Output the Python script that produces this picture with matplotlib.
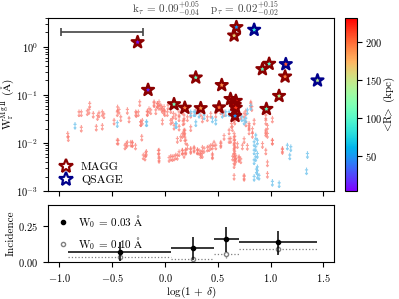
import numpy as np
import matplotlib
matplotlib.use('Agg')
from matplotlib import pyplot as plt
from matplotlib.path import Path
from matplotlib.lines import Line2D
from matplotlib.colors import Normalize

plt.rcParams['font.family'] = 'serif'
plt.rcParams['font.serif'] = ['cmr10']
plt.rcParams['mathtext.fontset'] = 'cm'
plt.rcParams['axes.formatter.use_mathtext'] = True
plt.rcParams['axes.unicode_minus'] = True

# upper limits, MAGG (log(1+delta), W in Angstrom)
magg_lim_x = [-0.714, -0.815, -0.793, -0.736, -0.72, -0.68, -0.626, -0.594, -0.452, -0.436,
              -0.357, -0.42, -0.483, -0.341, -0.272, -0.253, -0.24, -0.23, -0.594, -0.651,
              -0.793, -0.922, -0.916, -0.452, -0.367, -0.31, -0.221, -0.206, -0.19, -0.057,
              -0.063, 0.054, 0.085, 0.117, 0.164, 0.196, 0.187, 0.187, -0.168, -0.152,
              -0.104, -0.073, -0.057, -0.031, -0.009, 0.022, -0.278, -0.23, 0.054, 0.069,
              0.133, 0.171, -0.357, -0.31, -0.445, -0.177, -0.64, -0.58, -0.45, -0.215,
              -0.325, -0.38, -0.28,
              -0.104, -0.057, -0.073, -0.041, -0.009, -0.136, -0.167, -0.088, -0.025, -0.003,
              0.028, 0.054, 0.079, 0.101, 0.133, 0.164, 0.180, 0.212, 0.243, 0.291,
              0.338, 0.354, 0.401, 0.433, 0.480, 0.528, 0.559, -0.025, 0.180, 0.133,
              0.085, 0.243, 0.180, 0.148, 0.117, 0.196, 0.212, 0.243, 0.275, 0.306,
              0.338, 0.370, 0.417, 0.449, 0.480, 0.528, 0.164, 0.133, 0.101, 0.069,
              0.038, -0.057, -0.057, -0.183, 0.180, 0.354, 0.449, 0.622, 0.607, 0.629,
              0.654, 0.638, 0.654, 0.654, 0.654, 0.654, 0.654, 0.670, 0.654, 0.654,
              0.66, 0.66, 0.66, 0.66, 0.66, 0.66,
              0.812, 0.822, 0.765, 0.749, 0.717, 0.844, 0.796, 0.796, 0.954, 0.954,
              0.970, 0.954, 0.970, 1.017, 1.017, 0.954, 0.970, 0.970, 0.733, 0.701,
              0.749, 1.112, 0.923, 0.828,
              0.164, 0.18, 0.196, 0.243, 0.275, 0.307, 0.322, 0.354, 0.338, 0.401,
              0.433, 0.464, 0.528, 0.449, 0.559, 0.607, 0.686, 0.749, 0.78, 0.717,
              0.749, 1.017, 1.112, 0.954, 0.812, 0.765, 0.796, 0.828, 0.64, 0.67, 0.70]
magg_lim_w = [0.063, 0.042, 0.042, 0.044, 0.047, 0.039, 0.040, 0.042, 0.042, 0.047,
              0.047, 0.033, 0.028, 0.031, 0.040, 0.042, 0.068, 0.026, 0.022, 0.021,
              0.020, 0.0149, 0.0127, 0.0108, 0.0092, 0.0095, 0.013, 0.0053, 0.005, 0.0048,
              0.0066, 0.005, 0.005, 0.0052, 0.0066, 0.0069, 0.0174, 0.0125, 0.043, 0.049,
              0.065, 0.062, 0.057, 0.053, 0.045, 0.042, 0.042, 0.026, 0.028, 0.030,
              0.033, 0.027, 0.0098, 0.0098, 0.0107, 0.0063, 0.035, 0.038, 0.053, 0.028,
              0.0098, 0.0085, 0.0085,
              0.068, 0.068, 0.063, 0.058, 0.054, 0.046, 0.042, 0.046, 0.049, 0.042,
              0.058, 0.049, 0.039, 0.036, 0.042, 0.046, 0.036, 0.033, 0.039, 0.046,
              0.042, 0.031, 0.033, 0.039, 0.039, 0.046, 0.042, 0.028, 0.028, 0.021,
              0.022, 0.0205, 0.0175, 0.0127, 0.0117, 0.0108, 0.0085, 0.0073, 0.0073, 0.0067,
              0.0062, 0.0073, 0.0079, 0.0085, 0.0085, 0.0092, 0.0067, 0.0062, 0.0053, 0.0049,
              0.0047, 0.0067, 0.0045, 0.0059, 0.0057, 0.0057, 0.0053, 0.0117, 0.0175, 0.024,
              0.031, 0.0205, 0.0149, 0.0108, 0.0085, 0.0067, 0.0057, 0.0045, 0.0035, 0.002,
              0.028, 0.013, 0.0095, 0.0075, 0.005, 0.004,
              0.063, 0.054, 0.044, 0.039, 0.036, 0.028, 0.024, 0.0175, 0.036, 0.028,
              0.022, 0.0175, 0.0149, 0.031, 0.0108, 0.0067, 0.0038, 0.0022, 0.0085, 0.0049,
              0.0019, 0.0073, 0.0092, 0.0149,
              0.0147, 0.0159, 0.0066, 0.0069, 0.0077, 0.0069, 0.0066, 0.0077, 0.0056, 0.0077,
              0.0084, 0.0098, 0.0098, 0.0056, 0.0135, 0.0116, 0.0091, 0.0116, 0.0084, 0.0044,
              0.002, 0.0107, 0.0069, 0.0159, 0.067, 0.0257, 0.022, 0.0187, 0.005, 0.0052, 0.0047]

# upper limits, QSAGE
qsage_lim_x = [-0.853, -0.452, -0.177, 0.107, -0.174, 0.275, 0.322, 0.370, 0.449, 0.480,
               0.543, 0.575, 0.607, 0.101, 0.243, 0.284, 0.291, 0.780, 0.765, 0.727,
               0.749, 0.812, 0.859, 0.844, 0.875, 0.859, 0.844, 0.875, 0.859, 0.844,
               0.875, 0.844, 0.875, 0.866, 0.890, 1.159, 1.191, 1.181, 1.349, 1.340,
               1.017, 1.081]
qsage_lim_w = [0.023, 0.025, 0.026, 0.0237, 0.026, 0.042, 0.039, 0.036, 0.031, 0.028,
               0.039, 0.042, 0.042, 0.024, 0.042, 0.042, 0.026, 0.046, 0.031, 0.033,
               0.028, 0.057, 0.0138, 0.010, 0.0108, 0.0079, 0.0067, 0.0057, 0.0049, 0.0042,
               0.003, 0.0019, 0.0021, 0.0027, 0.002, 0.0085, 0.0079, 0.0053, 0.0057, 0.0026,
               0.0015, 0.0014]

# detections
magg_x = [-0.26, -0.161, 0.085, 0.187, 0.291, 0.338, 0.512, 0.537, 0.62, 0.67,
          0.66, 0.67, 0.663, 0.676, 0.654, 0.922, 0.986, 0.96, 1.08, 1.137]
magg_w = [1.25, 0.127, 0.064, 0.054, 0.23, 0.053, 0.055, 0.16, 0.082, 0.075,
          0.062, 0.054, 0.0365, 2.57, 1.72, 0.343, 0.443, 0.051, 0.095, 0.241]
magg_r = [10, 15, 110, 195, 110, 185, 200, 190, 225, 220,
          230, 215, 50, 50, 165, 105, 100, 105, 140, 195]

qsage_x = [0.844, 1.144, 1.444]
qsage_w = [2.26, 0.436, 0.2]
qsage_r = [85, 205, 145]

# representative error on log(1+delta)
err_x, err_w, err_dx = -0.6, 2.0, 0.39

# incidence panel
bin_lo = [-0.92, 0.06, 0.464, 0.70]
bin_hi = [0.06, 0.464, 0.70, 1.444]
inc_003 = [0.072, 0.095, 0.158, 0.139]
inc_003_lo = [0.065, 0.081, 0.086, 0.09]
inc_003_hi = [0.069, 0.081, 0.087, 0.078]
inc_010 = [0.033, 0.021, 0.055, 0.092]
inc_010_err = [0.02, 0.012, 0.025, 0.03]

r_min, r_max = 4, 232


def limit_marker():
    verts = [(0, 1), (0, -1), (-0.45, 0.35), (0.45, 0.35), (-0.35, -0.5), (0, -1), (0.35, -0.5)]
    codes = [Path.MOVETO, Path.LINETO, Path.MOVETO, Path.LINETO,
             Path.MOVETO, Path.LINETO, Path.LINETO]
    return Path(verts, codes)


def main():
    fig = plt.figure(figsize=(3.99, 2.99), dpi=100)
    ax1 = fig.add_axes([0.120, 0.361, 0.717, 0.579])
    ax2 = fig.add_axes([0.120, 0.124, 0.717, 0.190])
    cax = fig.add_axes([0.865, 0.361, 0.030, 0.579])

    mk = limit_marker()
    ax1.scatter(magg_lim_x, magg_lim_w, marker=mk, s=26, facecolors='none',
                edgecolors='#fa7a70', linewidths=0.8, alpha=0.7, zorder=2)
    ax1.scatter(qsage_lim_x, qsage_lim_w, marker=mk, s=26, facecolors='none',
                edgecolors='#7cc8ee', linewidths=0.8, alpha=0.85, zorder=2)

    norm = Normalize(vmin=r_min, vmax=r_max)
    sc = ax1.scatter(magg_x, magg_w, c=magg_r, cmap='rainbow', norm=norm, marker='*',
                     s=80, edgecolors='#8b0000', linewidths=1.7, zorder=4)
    ax1.scatter(qsage_x, qsage_w, c=qsage_r, cmap='rainbow', norm=norm, marker='*',
                s=80, edgecolors='#00008b', linewidths=1.7, zorder=4)

    ax1.errorbar(err_x, err_w, xerr=err_dx, fmt='none', ecolor='#444444',
                 elinewidth=1.2, capsize=3, capthick=1.2)

    ax1.set_yscale('log')
    ax1.set_ylim(1e-3, 4)
    ax1.set_xlim(-1.11, 1.6)
    ax1.set_xticks([-1.0, -0.5, 0.0, 0.5, 1.0, 1.5])
    ax1.tick_params(labelbottom=False)
    ax1.set_ylabel(r'W$_{\rm r}^{\rm Mg\,II}$ ($\rm\AA$)', fontsize=8, labelpad=0)

    handles = [Line2D([], [], marker='*', ls='none', ms=10, mfc='white', mec='#8b0000', mew=1.6),
               Line2D([], [], marker='*', ls='none', ms=10, mfc='white', mec='#00008b', mew=1.6)]
    ax1.legend(handles, ['MAGG', 'QSAGE'], loc='lower left', frameon=False, fontsize=8.5,
               handletextpad=0.3, borderaxespad=0.2, labelspacing=0.25, borderpad=0.3)

    cb = fig.colorbar(sc, cax=cax)
    cb.set_ticks([50, 100, 150, 200])
    cb.set_label(r'$<\!\!$R$\!\!>$ (kpc)', fontsize=8, labelpad=0)
    cb.ax.tick_params(labelsize=7.5, pad=2)

    lo = np.array(bin_lo)
    hi = np.array(bin_hi)
    mid = 0.5 * (lo + hi)
    half = 0.5 * (hi - lo)
    ax2.errorbar(mid, inc_003, xerr=half, yerr=[inc_003_lo, inc_003_hi], fmt='o',
                 color='black', ms=3, elinewidth=1.1, capsize=0, zorder=3)
    eb = ax2.errorbar(mid, inc_010, xerr=half, yerr=inc_010_err, fmt='o', color='gray',
                      mfc='white', mec='gray', ms=3, elinewidth=0.9, capsize=0, zorder=2)
    eb[2][0].set_linestyle(':')
    eb[2][1].set_linestyle(':')
    ax2.set_xlim(-1.11, 1.6)
    ax2.set_ylim(0, 0.4)
    ax2.set_yticks([0.0, 0.25])
    ax2.set_xticks([-1.0, -0.5, 0.0, 0.5, 1.0, 1.5])
    ax2.yaxis.set_major_formatter(plt.FormatStrFormatter(r'$%.2f$'))
    ax2.xaxis.set_major_formatter(plt.FormatStrFormatter(r'$%.1f$'))
    ax2.set_ylabel('Incidence', fontsize=8, labelpad=2)
    ax2.set_xlabel(r'log(1 + $\delta$)', fontsize=8, labelpad=1)
    inc_handles = [Line2D([], [], marker='o', ls='none', ms=3, color='black'),
                   Line2D([], [], marker='o', ls='none', ms=3, mfc='white', mec='gray')]
    ax2.legend(inc_handles, [r'W$_0$ = 0.03 $\rm\AA$', r'W$_0$ = 0.10 $\rm\AA$'],
               loc='upper left', frameon=False, fontsize=8, handletextpad=0.6,
               borderaxespad=0.3, labelspacing=0.5, handlelength=1.4)

    for ax in (ax1, ax2):
        ax.tick_params(labelsize=7.5, length=3.5)

    fig.text(0.515, 0.967,
             r'k$_\tau$ = 0.09$^{+0.05}_{-0.04}$   p$_\tau$ = 0.02$^{+0.15}_{-0.02}$',
             ha='center', va='center', fontsize=8, color='#444444')

    fig.savefig('out.png', dpi=100)


if __name__ == '__main__':
    main()
